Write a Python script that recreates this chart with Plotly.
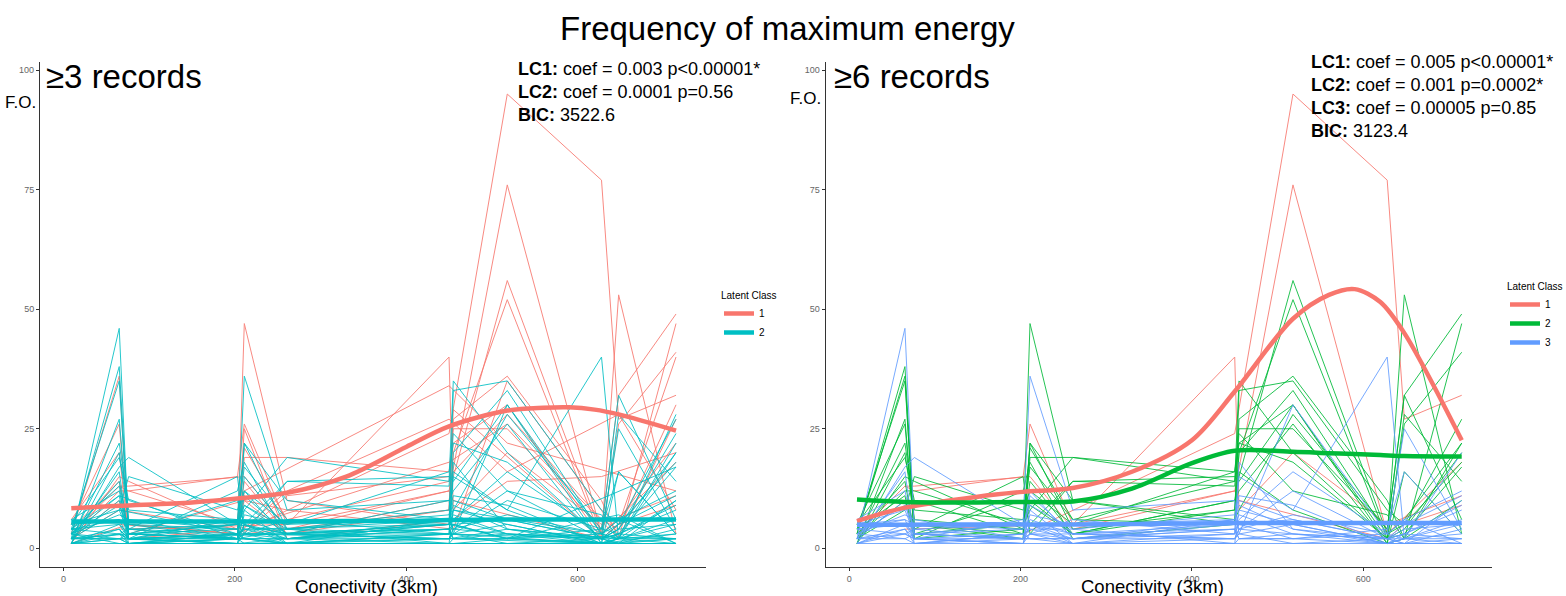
import plotly.graph_objects as go

_ = None
W, H = 1566, 596

# ---------------- data ----------------
SITES = [9, 65, 76, 203, 211, 261, 450, 455, 518, 628, 648, 715]

# each row: F.O. value at each site (None = no record)
TRAJ = [
    [_, _, _, 3, _, _, 24, _, 95, 77, 27, 32],
    [_, 4, _, _, _, 5, 12, _, 76, 3, _, 18],
    [_, 13, 12, 15, 26, 5, 40, 8, 20, 5, _, 11],
    [3, 13, 13, _, 15, 4, 12, 10, _, 2, 5, 9],
    [3, 36, 2, 4, 14, 3, 10, 15, 56, 3, 6, 22],
    [2, 10, 5, 3, 47, 10, 5, 20, 52, 2, 53, 3],
    [5, 26, 3, 2, 19, 19, 16, 25, 25, 4, 32, 49],
    [1, 15, 14, 4, 10, 3, 8, 27, 36, 10, 2, 47],
    [2, 12, 12, 5, 21, 6, 14, 22, 30, 2, 26, 41],
    [_, _, _, 2, 12, _, 34, _, 22, _, _, 12],
    [2, 8, _, 4, _, _, 18, _, 26, _, 2, 27],
    [_, _, 3, _, 10, 8, _, 4, 35, _, 3, _],
    [6, 20, 2, _, 3, _, 8, 29, _, 2, 5, 40],
    [1, _, 5, 3, 25, 2, _, 6, 14, 15, _, 20],
    [_, 5, _, 3, _, 12, 27, _, 16, _, 28, 8],
    [4, 14, 4, 2, _, 11, 15, _, 28, 6, 4, 30],
    [3, 38, 5, 2, 22, 4, 8, 20, 33, 3, 5, 27],
    [4, 35, 3, 5, 8, 19, 14, 35, 20, 2, 4, 20],
    [2, 22, 8, 6, 17, 6, 5, 33, 35, 8, 5, 18],
    [1, 27, 4, 15, 3, 14, 15, 14, 30, 1, 2, 22],
    [5, 19, 10, 3, 22, 10, 6, 8, 28, 4, 32, 6],
    [2, 8, 15, 8, 12, 5, 16, 22, 18, 2, 3, 17],
    [3, 14, 3, 10, 5, 14, 13, 24, 12, 7, 2, 10],
    [1, 20, 6, 4, 9, 3, 10, 12, 26, 1, 16, 3],
    [4, 11, 2, 12, 18, 2, 5, 16, 8, 1, 28, 14],
    [2, 46, 3, 2, 5, 3, 4, 5, 6, 2, 3, 2],
    [1, 17, 19, 5, 36, 8, 10, 3, 30, 3, 6, 12],
    [4, 5, 3, 2, 3, 2, 3, 15, 8, 40, 2, 20],
    [2, 4, 2, 3, 4, 2, 5, 6, 16, 3, 25, 4],
    [3, 9, 4, 2, 7, 5, 6, 9, 4, 2, 1, 10],
    [1, 3, 2, 1, 3, 1, 2, 3, 5, 1, 2, 3],
    [5, 6, 5, 4, 6, 3, 5, 7, 3, 2, 4, 5],
    [2, 2, 1, 2, 2, 1, 1, 2, 2, 1, 1, 1],
    [6, 12, 3, 5, 9, 4, 7, 11, 9, 1, 3, 8],
    [1, 4, 1, 3, 2, 2, 4, 2, 3, 2, 1, 2],
    [3, 7, 6, 2, 11, 3, 2, 4, 7, 3, 6, 1],
    [2, 16, 2, 1, 5, 1, 3, 18, 4, 1, 2, 6],
    [4, 3, 4, 5, 3, 6, 3, 5, 2, 4, 16, 3],
    [1, 5, 2, 1, 8, 1, 6, 4, 12, 2, 3, 9],
    [3, 2, 3, 2, 2, 2, 2, 3, 1, 2, 2, 2],
    [2, 10, 1, 3, 4, 4, 1, 8, 5, 1, 1, 4],
    [4, 6, 2, 6, 5, 2, 4, 2, 2, 3, 2, 1],
    [1, 1, 1, 1, 1, 1, 1, 1, 1, 1, 1, 1],
    [5, 8, 3, 4, 12, 2, 6, 10, 6, 2, 5, 11],
    [2, 3, 2, 2, 3, 3, 2, 4, 3, 1, 2, 5],
    [3, 11, _, 2, _, 4, _, 6, 3, _, _, 2],
    [_, 4, 2, _, 3, _, 2, _, 4, _, 2, _],
    [2, _, 3, _, 2, 1, _, 3, _, 1, _, 3],
    [_, 8, _, 3, 4, _, 5, _, 2, _, 7, 1],
    [1, 2, _, 1, _, 2, _, 1, 2, _, 1, _],
    [_, _, 2, 5, _, 3, 3, _, _, 2, 4, 24],
    [4, 13, 2, _, _, 3, _, 5, 2, _, _, 17],
    [_, 3, 1, 2, 1, _, 2, 2, _, 1, _, 1],
    [2, _, _, 2, 15, 4, _, 3, 10, _, 3, _],
    [1, 2, 1, _, 2, 1, 1, _, 1, 1, _, 2],
    [_, 6, 4, 3, _, _, 4, 8, _, 3, 2, 28],
    [3, 1, _, 1, _, 1, _, 1, _, 1, 1, 1],
]
# latent class in the ">=3 records" model and in the ">=6 records" model (0 = not included)
CLASS_3 = [1]*16 + [2]*41
CLASS_6 = [1]*4 + [2]*5 + [0]*7 + [2]*9 + [3]*20 + [0]*12

FIT_X = [9, 65, 150, 203, 261, 330, 400, 450, 518, 560, 590, 620, 648, 715]
FIT3_LC1 = [8.4, 8.9, 9.6, 10.4, 11.6, 15.0, 21.2, 25.5, 28.8, 29.4, 29.5, 29.0, 28.0, 24.6]
FIT3_LC2 = [5.6, 5.6, 5.6, 5.6, 5.6, 5.7, 5.7, 5.9, 6.0, 6.0, 6.0, 6.0, 6.0, 6.0]
FIT6_LC1 = [5.7, 8.5, 10.8, 11.8, 12.6, 16.0, 22.6, 32.8, 48.0, 53.0, 54.2, 51.5, 45.0, 22.6]
FIT6_LC2 = [10.2, 9.7, 9.6, 9.7, 9.8, 12.5, 17.8, 20.4, 20.2, 19.9, 19.7, 19.5, 19.3, 19.2]
FIT6_LC3 = [4.9, 4.9, 5.0, 5.0, 5.0, 5.1, 5.2, 5.3, 5.3, 5.3, 5.3, 5.3, 5.3, 5.3]

COL3 = {1: "#F8766D", 2: "#00BFC4"}
COL6 = {1: "#F8766D", 2: "#00BA38", 3: "#619CFF"}

# ---------------- figure ----------------
fig = go.Figure()


def thin(vals, color, xa, ya):
    xs = [s for s, v in zip(SITES, vals) if v is not None]
    ys = [v for v in vals if v is not None]
    fig.add_trace(go.Scatter(x=xs, y=ys, mode="lines", xaxis=xa, yaxis=ya,
                             line=dict(color=color, width=1.0), opacity=0.85,
                             showlegend=False, hoverinfo="skip"))


for vals, c3 in zip(TRAJ, CLASS_3):
    thin(vals, COL3[c3], "x", "y")
for vals, c6 in zip(TRAJ, CLASS_6):
    if c6:
        thin(vals, COL6[c6], "x2", "y2")


def thick(ys, color, name, xa, ya, leg):
    fig.add_trace(go.Scatter(x=FIT_X, y=ys, mode="lines", xaxis=xa, yaxis=ya,
                             line=dict(color=color, width=4.5, shape="spline", smoothing=0.9),
                             name=name, legend=leg, showlegend=True))


thick(FIT3_LC1, COL3[1], "1", "x", "y", "legend")
thick(FIT3_LC2, COL3[2], "2", "x", "y", "legend")
thick(FIT6_LC1, COL6[1], "1", "x2", "y2", "legend2")
thick(FIT6_LC2, COL6[2], "2", "x2", "y2", "legend2")
thick(FIT6_LC3, COL6[3], "3", "x2", "y2", "legend2")


def px(x):
    return x / W


def py(y):
    return 1 - y / H


XR = [-27.5, 750]
YR = [-3.85, 101.7]
ydom = [py(566.7), py(62)]

axis_common = dict(showline=True, linecolor="#333333", linewidth=1.1, ticks="outside",
                   ticklen=3, tickcolor="#333333", tickwidth=1,
                   tickfont=dict(size=9, color="#666666", family="Liberation Sans"),
                   showgrid=False, zeroline=False)

fig.update_layout(
    width=W, height=H, margin=dict(l=0, r=0, t=0, b=0),
    paper_bgcolor="white", plot_bgcolor="white",
    font=dict(family="Liberation Sans", color="#000000"),
    xaxis=dict(domain=[px(40), px(706)], range=XR, tickvals=[0, 200, 400, 600], anchor="y", **axis_common),
    yaxis=dict(domain=ydom, range=YR, tickvals=[0, 25, 50, 75, 100], anchor="x", **axis_common),
    xaxis2=dict(domain=[px(825.7), px(1491.7)], range=XR, tickvals=[0, 200, 400, 600], anchor="y2", **axis_common),
    yaxis2=dict(domain=ydom, range=YR, tickvals=[0, 25, 50, 75, 100], anchor="x2", **axis_common),
    legend=dict(title=dict(text="Latent Class", font=dict(size=10)), font=dict(size=10),
                x=px(719), y=py(286), xanchor="left", yanchor="top", itemwidth=30,
                bgcolor="rgba(0,0,0,0)", tracegroupgap=0),
    legend2=dict(title=dict(text="Latent Class", font=dict(size=10)), font=dict(size=10),
                 x=px(1505), y=py(277), xanchor="left", yanchor="top", itemwidth=30,
                 bgcolor="rgba(0,0,0,0)", tracegroupgap=0),
)

ann = []


def text(x, y, s, size, xanchor="left", color="#000000"):
    ann.append(dict(x=px(x), y=py(y), xref="paper", yref="paper", text=s, showarrow=False,
                    xanchor=xanchor, yanchor="middle", font=dict(size=size, color=color)))


text(787, 28, "Frequency of maximum energy", 33, "center")
text(44, 77, "≥3 records", 33)
text(832, 76, "≥6 records", 33)
text(3, 102, "F.O.", 17)
text(788, 98, "F.O.", 17)
text(366, 586, "Conectivity (3km)", 18.5, "center")
text(1152, 586, "Conectivity (3km)", 18.5, "center")

text(516, 69, "<b>LC1:</b> coef = 0.003 p<0.00001*", 18)
text(516, 92, "<b>LC2:</b> coef = 0.0001 p=0.56", 18)
text(516, 115, "<b>BIC:</b> 3522.6", 18)

text(1309, 62, "<b>LC1:</b> coef = 0.005 p<0.00001*", 18)
text(1309, 85, "<b>LC2:</b> coef = 0.001 p=0.0002*", 18)
text(1309, 108, "<b>LC3:</b> coef = 0.00005 p=0.85", 18)
text(1309, 131, "<b>BIC:</b> 3123.4", 18)

fig.update_layout(annotations=ann)

fig.write_html("out.html")
